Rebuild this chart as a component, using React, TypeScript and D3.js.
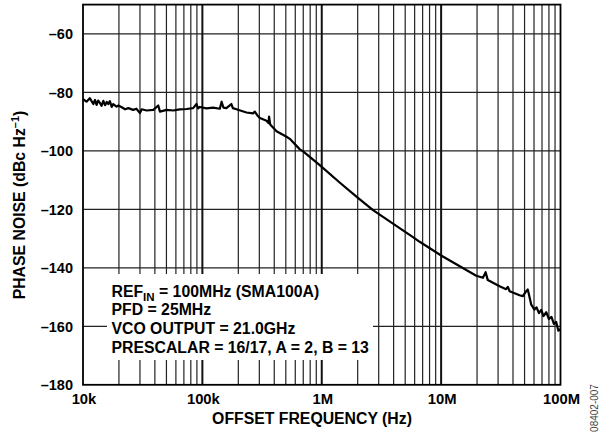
import React from 'react';
import * as d3 from 'd3';

// Offset frequency (Hz) and phase noise (dBc/Hz)
const freqs = [
  1.0e4, 1.07e4, 1.14e4, 1.22e4, 1.26e4, 1.3e4, 1.34e4, 1.39e4, 1.43e4, 1.48e4,
  1.53e4, 1.58e4, 1.63e4, 1.68e4, 1.74e4, 1.79e4, 1.91e4, 1.98e4, 2.11e4, 2.25e4,
  2.4e4, 2.63e4, 2.8e4, 3.0e4, 3.1e4, 3.41e4, 3.88e4, 4.27e4, 4.41e4, 5.02e4,
  5.7e4, 6.46e4, 7.36e4, 8.37e4, 8.93e4, 9.2e4, 9.53e4, 1.08e5, 1.23e5, 1.4e5,
  1.45e5, 1.5e5, 1.59e5, 1.75e5, 1.8e5, 1.93e5, 2.34e5, 2.66e5, 2.75e5, 2.9e5,
  3.03e5, 3.45e5, 3.58e5, 3.62e5, 3.7e5, 4.18e5, 5.07e5, 5.4e5, 6.55e5, 6.98e5,
  9.62e5, 1.42e6, 2.01e6, 2.69e6, 3.95e6, 5.81e6, 6.61e6, 1.0e7, 1.97e7, 2.24e7,
  2.36e7, 2.46e7, 3.09e7, 3.5e7, 3.62e7, 3.75e7, 4.54e7, 4.84e7, 5.16e7, 5.32e7,
  5.69e7, 6.05e7, 6.3e7, 6.6e7, 6.9e7, 7.2e7, 7.6e7, 8.0e7, 8.4e7, 8.8e7,
  9.2e7, 9.6e7, 1.0e8,
];
const noise = [
  -82.3, -83.2, -82.0, -84.0, -82.6, -84.3, -82.8, -83.7, -84.6, -82.9,
  -84.4, -83.3, -84.0, -83.0, -85.0, -84.0, -84.9, -84.5, -85.1, -85.8,
  -85.4, -86.0, -85.6, -87.1, -85.8, -86.2, -86.0, -84.5, -86.6, -86.0,
  -86.2, -85.8, -85.7, -85.4, -84.0, -85.5, -85.0, -85.5, -85.2, -85.6,
  -83.2, -85.2, -85.4, -84.0, -85.4, -85.8, -86.9, -87.2, -86.6, -88.0,
  -88.8, -89.7, -90.5, -88.3, -91.0, -93.3, -95.2, -95.9, -99.5, -100.2,
  -104.9, -110.9, -116.1, -120.3, -124.9, -129.5, -131.1, -135.8, -142.7, -143.4,
  -141.5, -144.2, -146.3, -147.3, -146.5, -148.0, -149.4, -149.7, -148.0, -147.4,
  -152.6, -154.3, -153.5, -155.5, -154.4, -156.5, -155.2, -157.5, -156.8, -159.2,
  -158.5, -161.5, -161.0,
];

const yTicks = [-180, -160, -140, -120, -100, -80, -60];
const xDecades = [1e4, 1e5, 1e6, 1e7, 1e8];
const xTickLabels = ['10k', '100k', '1M', '10M', '100M'];
const notes = ['PFD = 25MHz', 'VCO OUTPUT = 21.0GHz', 'PRESCALAR = 16/17, A = 2, B = 13'];

const W = 603;
const H = 434;
const font = 'Arial, "Liberation Sans", sans-serif';

const x = d3.scaleLog().domain([1e4, 1e8]).range([83, 560.5]);
const y = d3.scaleLinear().domain([-180, -50]).range([384.8, 4.6]);

// minor grid: 2..9 in each decade
const minorFreqs: number[] = [];
xDecades.slice(0, -1).forEach((d) => {
  for (let k = 2; k <= 9; k += 1) minorFreqs.push(d * k);
});

const line = d3.line<number>()
  .x((_, i) => x(freqs[i]))
  .y((v) => y(v));

const App: React.FC = () => {
  const [x0, x1] = x.range();
  const [y0, y1] = y.range();
  const box = { left: 107, right: 373, top: 274, bottom: 360 };
  const fmt = (v: number) => `\u2013${Math.abs(v)}`;

  return (
    <svg
      width={W}
      height={H}
      style={{ position: 'absolute', left: 0, top: 0, background: '#fff' }}
      fontFamily={font}
      fontWeight="bold"
    >
      {/* horizontal grid */}
      {yTicks.slice(1).map((t) => (
        <line key={t} x1={x0} x2={x1} y1={y(t)} y2={y(t)} stroke="#222" strokeWidth={1.3} />
      ))}
      {/* vertical grid */}
      {minorFreqs.map((f) => (
        <line key={f} x1={x(f)} x2={x(f)} y1={y1} y2={y0} stroke="#222" strokeWidth={1.2} />
      ))}
      {xDecades.slice(1, -1).map((f) => (
        <line key={f} x1={x(f)} x2={x(f)} y1={y1} y2={y0} stroke="#111" strokeWidth={2} />
      ))}

      {/* legend box blanks out the grid */}
      <rect
        x={box.left}
        y={box.top}
        width={box.right - box.left}
        height={box.bottom - box.top}
        fill="#fff"
      />

      <rect x={x0} y={y1} width={x1 - x0} height={y0 - y1} fill="none" stroke="#000" strokeWidth={1.8} />

      <path d={line(noise) ?? ''} fill="none" stroke="#000" strokeWidth={2.2} strokeLinejoin="round" />

      {/* y tick labels */}
      {yTicks.map((t) => (
        <text key={t} x={73} y={y(t)} dy="0.36em" textAnchor="end" fontSize={14.5}>
          {fmt(t)}
        </text>
      ))}
      {/* x tick labels */}
      {xDecades.map((f, i) => (
        <text key={f} x={x(f) + 1} y={404} textAnchor="middle" fontSize={14.8}>
          {xTickLabels[i]}
        </text>
      ))}

      <text x={312} y={424} textAnchor="middle" fontSize={15.8}>
        OFFSET FREQUENCY (Hz)
      </text>
      <text transform="translate(25,205) rotate(-90)" textAnchor="middle" fontSize={15.8}>
        PHASE NOISE (dBc Hz
        <tspan dy={-6} fontSize={11}>{'\u20131'}</tspan>
        <tspan dy={6}>)</tspan>
      </text>

      {/* notes */}
      <text x={111.5} y={296.7} fontSize={15.8}>
        REF
        <tspan dy={4} fontSize={11.5}>IN</tspan>
        <tspan dy={-4}> = 100MHz (SMA100A)</tspan>
      </text>
      {notes.map((n, i) => (
        <text key={n} x={111.5} y={315.2 + i * 18.7} fontSize={15.8}>
          {n}
        </text>
      ))}

      <text
        transform="translate(598,408) rotate(-90)"
        textAnchor="middle"
        fontSize={10}
        fontWeight="normal"
        fill="#444"
      >
        08402-007
      </text>
    </svg>
  );
};

export default App;
